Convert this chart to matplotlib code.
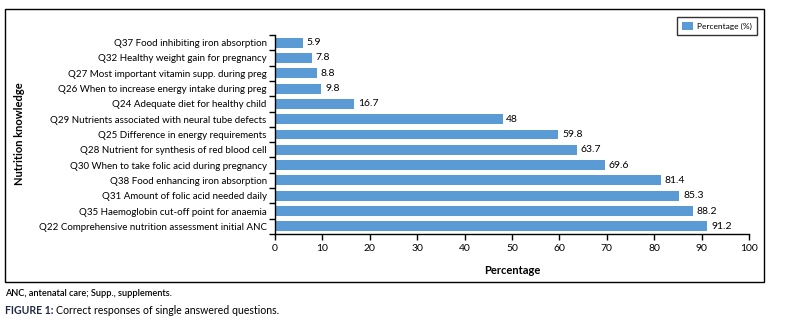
import numpy as np
import matplotlib
matplotlib.use('Agg')
import matplotlib.pyplot as plt
from matplotlib.patches import Rectangle

# data, top to bottom as in the chart
questions = [
    'Q37 Food inhibiting iron absorption',
    'Q32 Healthy weight gain for pregnancy',
    'Q27 Most important vitamin supp. during preg',
    'Q26 When to increase energy intake during preg',
    'Q24 Adequate diet for healthy child',
    'Q29 Nutrients associated with neural tube defects',
    'Q25 Difference in energy requirements',
    'Q28 Nutrient for synthesis of red blood cell',
    'Q30 When to take folic acid during pregnancy',
    'Q38 Food enhancing iron absorption',
    'Q31 Amount of folic acid needed daily',
    'Q35 Haemoglobin cut-off point for anaemia',
    'Q22 Comprehensive nutrition assessment initial ANC',
]
percent = [5.9, 7.8, 8.8, 9.8, 16.7, 48, 59.8, 63.7, 69.6, 81.4, 85.3, 88.2, 91.2]
labels = ['5.9', '7.8', '8.8', '9.8', '16.7', '48', '59.8', '63.7', '69.6', '81.4', '85.3', '88.2', '91.2']
xticks = [0, 10, 20, 30, 40, 50, 60, 70, 80, 90, 100]

plt.rcParams['font.family'] = ['Lato', 'DejaVu Sans']
W, H = 793, 322
fig = plt.figure(figsize=(W / 100, H / 100), dpi=100)

ax = fig.add_axes([275 / W, 1 - 234 / H, (749 - 275) / W, (234 - 35) / H])
n = len(questions)
ypos = np.arange(n)
bars = ax.barh(ypos, percent, height=0.65, color='#5B9BD5', label='Percentage (%)')
ax.set_ylim(n - 0.5, -0.5)
ax.set_xlim(0, 100)
ax.set_xticks(xticks)
ax.set_yticks(ypos)
ax.set_yticklabels(questions, fontsize=7)
ax.set_yticks(np.arange(-0.5, n, 1), minor=True)
ax.tick_params(axis='y', which='major', length=0, pad=6)
ax.tick_params(axis='y', which='minor', length=4, width=1, direction='out')
ax.tick_params(axis='x', length=4, width=1, labelsize=7.5, pad=3)
for s in ['top', 'right']:
    ax.spines[s].set_visible(False)
for s in ['left', 'bottom']:
    ax.spines[s].set_linewidth(1)
for b, t in zip(bars, labels):
    ax.text(b.get_width() + 0.8, b.get_y() + b.get_height() / 2, t,
            va='center', ha='left', fontsize=7.5)

ax.set_xlabel('Percentage', fontsize=8, fontweight='bold', labelpad=9)
fig.text(20 / W, 1 - 134 / H, 'Nutrition knowledge', rotation=90, fontsize=8,
         fontweight='bold', ha='center', va='center')

# legend box
leg = ax.legend(loc='upper right', bbox_to_anchor=(761 / W, 1 - 12.5 / H),
                bbox_transform=fig.transFigure, fontsize=6, frameon=True,
                fancybox=False, edgecolor='black', handlelength=1.3,
                handleheight=1.2, borderpad=0.6, handletextpad=0.5)
leg.get_frame().set_linewidth(1)

# outer border
fig.patches.append(Rectangle((5 / W, 1 - 282 / H), (764 - 5) / W, (282 - 9) / H,
                             transform=fig.transFigure, fill=False,
                             edgecolor='black', linewidth=1))

fig.text(5 / W, 1 - 294 / H, 'ANC, antenatal care; Supp., supplements.',
         fontsize=6.6, fontweight='semibold', va='center', ha='left')
cap = fig.text(5 / W, 1 - 311 / H, 'FIGURE 1:', fontsize=7.6, fontweight='bold',
               va='center', ha='left', color='#1f2a44')
fig.canvas.draw()
bb = cap.get_window_extent()
fig.text((bb.x1 + 2) / W, 1 - 311 / H, 'Correct responses of single answered questions.',
         fontsize=7.6, va='center', ha='left')

fig.savefig('out.png', dpi=100)
